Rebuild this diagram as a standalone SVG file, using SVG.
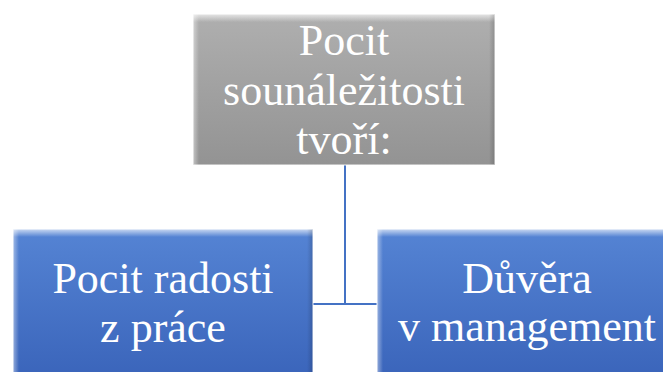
<svg xmlns="http://www.w3.org/2000/svg" width="663" height="372" viewBox="0 0 663 372">
<defs>
<linearGradient id="gGray" x1="0" y1="0" x2="0" y2="1">
<stop offset="0" stop-color="#afafaf"/>
<stop offset="1" stop-color="#939393"/>
</linearGradient>
<linearGradient id="gBlue" x1="0" y1="0" x2="0" y2="1">
<stop offset="0" stop-color="#5584d4"/>
<stop offset="1" stop-color="#3a64ba"/>
</linearGradient>
<linearGradient id="gShineT" x1="0" y1="0" x2="0" y2="1">
<stop offset="0" stop-color="#ffffff" stop-opacity="0.7"/>
<stop offset="1" stop-color="#ffffff" stop-opacity="0"/>
</linearGradient>
<linearGradient id="gShineL" x1="0" y1="0" x2="1" y2="0">
<stop offset="0" stop-color="#ffffff" stop-opacity="0.45"/>
<stop offset="1" stop-color="#ffffff" stop-opacity="0"/>
</linearGradient>
<linearGradient id="gShadeR" x1="0" y1="0" x2="1" y2="0">
<stop offset="0" stop-color="#000000" stop-opacity="0"/>
<stop offset="1" stop-color="#000000" stop-opacity="0.18"/>
</linearGradient>
</defs>
<style>
.t{font-family:"Liberation Serif","Times New Roman",serif;font-size:44px;fill:#ffffff;text-anchor:middle}
.edge{fill:none;stroke:#ffffff;stroke-opacity:0.6;stroke-width:1.5}
.conn{fill:none;stroke:#4472c4;stroke-width:2}
</style>
<g id="connectors">
<path class="conn" d="M345 165 V304 M313 304 H377"/>
</g>
<g id="top">
<rect x="193" y="14" width="302" height="151" fill="url(#gGray)"/>
<rect x="193" y="14" width="302" height="8" fill="url(#gShineT)"/>
<rect x="193" y="14" width="6" height="151" fill="url(#gShineL)"/>
<rect x="489" y="14" width="6" height="151" fill="url(#gShadeR)"/>
<rect class="edge" x="193" y="14" width="302" height="151"/>
<text class="t" x="344" y="55">Pocit</text>
<text class="t" x="344" y="105">sounáležitosti</text>
<text class="t" x="344" y="154">tvoří:</text>
</g>
<g id="left">
<rect x="13" y="229" width="300" height="151" fill="url(#gBlue)"/>
<rect x="13" y="229" width="300" height="8" fill="url(#gShineT)"/>
<rect x="13" y="229" width="6" height="151" fill="url(#gShineL)"/>
<rect x="307" y="229" width="6" height="151" fill="url(#gShadeR)"/>
<rect class="edge" x="13" y="229" width="300" height="151"/>
<text class="t" x="163" y="293">Pocit radosti</text>
<text class="t" x="163" y="342">z práce</text>
</g>
<g id="right">
<rect x="377" y="229" width="300" height="151" fill="url(#gBlue)"/>
<rect x="377" y="229" width="300" height="8" fill="url(#gShineT)"/>
<rect x="377" y="229" width="6" height="151" fill="url(#gShineL)"/>
<rect class="edge" x="377" y="229" width="300" height="151"/>
<text class="t" x="527" y="293">Důvěra</text>
<text class="t" x="527" y="341">v management</text>
</g>
</svg>
